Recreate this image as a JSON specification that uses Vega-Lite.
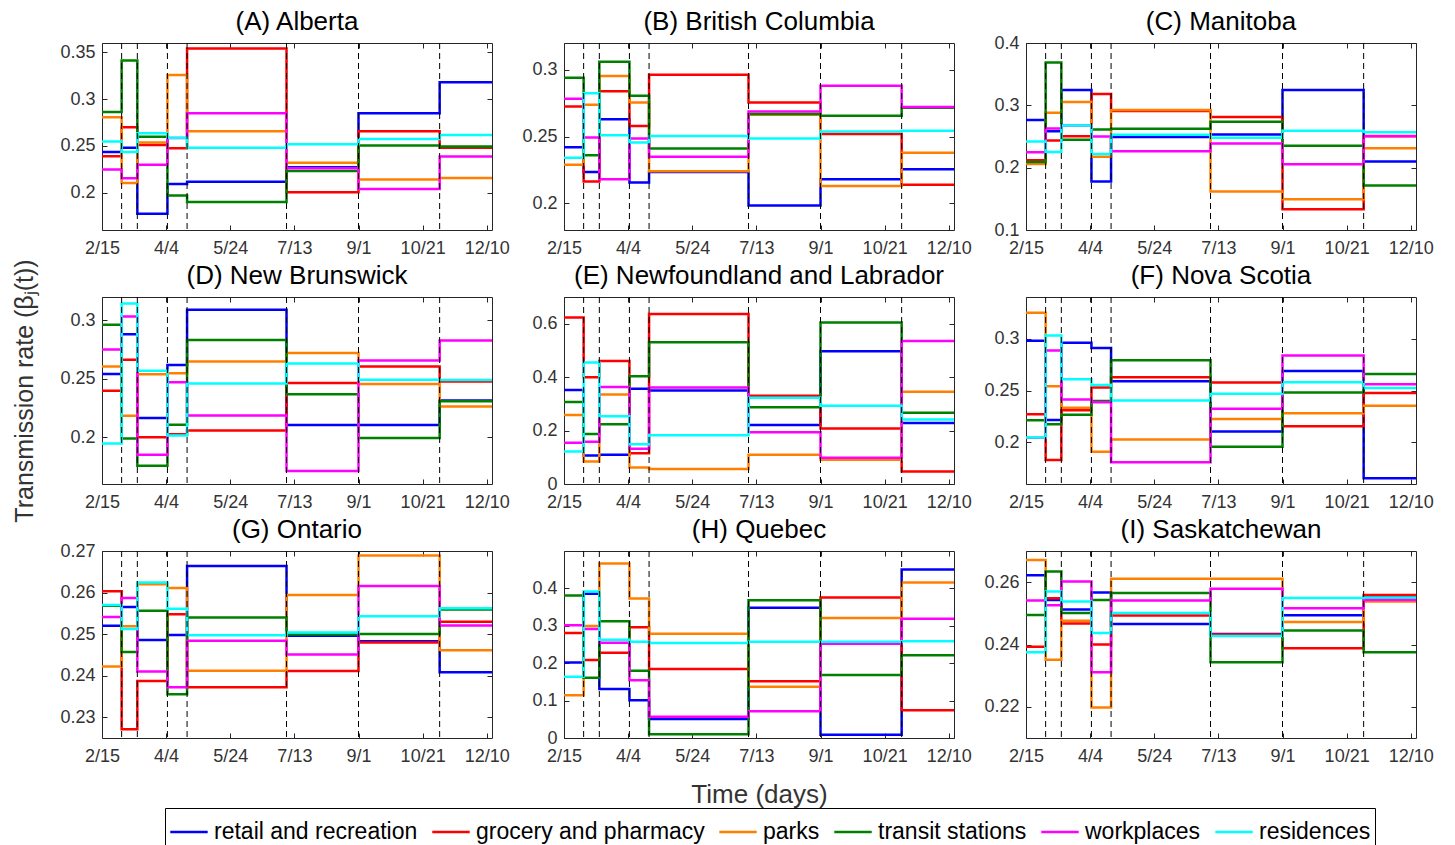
{
"$schema": "https://vega.github.io/schema/vega-lite/v6.json",
"padding": {"top": 8, "left": 12, "right": 5, "bottom": 0},
"config": {
  "font": "Liberation Sans",
  "view": {"stroke": "#262626", "strokeWidth": 1},
  "axis": {"labelFontSize": 18, "labelColor": "#333333", "tickColor": "#262626", "tickSize": -5, "domain": false, "grid": false, "titleFontWeight": "normal", "titleColor": "#333333", "labelFlush": false, "labelOverlap": false},
  "axisX": {"labelPadding": 14},
  "axisY": {"labelPadding": 12},
  "title": {"fontSize": 26, "fontWeight": "normal", "color": "black", "offset": 8, "anchor": "middle"},
  "legend": {"symbolType": "stroke", "symbolStrokeWidth": 2.5, "symbolSize": 1400, "labelFontSize": 23, "labelColor": "black", "strokeColor": "black", "padding": 4, "columnPadding": 9, "labelOffset": 5, "labelLimit": 400}
},
"datasets": {
  "rates": [
    {"p":"A","d":0,"retail and recreation":0.2435,"grocery and pharmacy":0.2388,"parks":0.2807,"transit stations":0.2861,"workplaces":0.2247,"residences":0.2547},
    {"p":"A","d":15,"retail and recreation":0.248,"grocery and pharmacy":0.2699,"parks":0.2103,"transit stations":0.3413,"workplaces":0.2153,"residences":0.2435},
    {"p":"A","d":27,"retail and recreation":0.1774,"grocery and pharmacy":0.251,"parks":0.2536,"transit stations":0.2597,"workplaces":0.2298,"residences":0.2634},
    {"p":"A","d":50,"retail and recreation":0.2092,"grocery and pharmacy":0.2475,"parks":0.3258,"transit stations":0.197,"workplaces":0.2585,"residences":0.2587},
    {"p":"A","d":65,"retail and recreation":0.2117,"grocery and pharmacy":0.354,"parks":0.2655,"transit stations":0.19,"workplaces":0.285,"residences":0.248},
    {"p":"A","d":141,"retail and recreation":0.227,"grocery and pharmacy":0.2005,"parks":0.232,"transit stations":0.223,"workplaces":0.226,"residences":0.2518},
    {"p":"A","d":196,"retail and recreation":0.285,"grocery and pharmacy":0.2655,"parks":0.214,"transit stations":0.2504,"workplaces":0.2038,"residences":0.2572},
    {"p":"A","d":258,"retail and recreation":0.318,"grocery and pharmacy":0.248,"parks":0.2157,"transit stations":0.2493,"workplaces":0.2385,"residences":0.2616},
    {"p":"A","d":298,"retail and recreation":0.318,"grocery and pharmacy":0.248,"parks":0.2157,"transit stations":0.2493,"workplaces":0.2385,"residences":0.2616},

    {"p":"B","d":0,"retail and recreation":0.242,"grocery and pharmacy":0.2725,"parks":0.2288,"transit stations":0.294,"workplaces":0.2783,"residences":0.234},
    {"p":"B","d":15,"retail and recreation":0.2235,"grocery and pharmacy":0.2163,"parks":0.2738,"transit stations":0.236,"workplaces":0.2493,"residences":0.2823},
    {"p":"B","d":27,"retail and recreation":0.263,"grocery and pharmacy":0.2838,"parks":0.2953,"transit stations":0.306,"workplaces":0.218,"residences":0.251},
    {"p":"B","d":50,"retail and recreation":0.2155,"grocery and pharmacy":0.2578,"parks":0.2755,"transit stations":0.2805,"workplaces":0.2485,"residences":0.2455},
    {"p":"B","d":65,"retail and recreation":0.2235,"grocery and pharmacy":0.2963,"parks":0.224,"transit stations":0.241,"workplaces":0.2348,"residences":0.2503},
    {"p":"B","d":141,"retail and recreation":0.1983,"grocery and pharmacy":0.2755,"parks":0.2662,"transit stations":0.2668,"workplaces":0.2688,"residences":0.2485},
    {"p":"B","d":196,"retail and recreation":0.218,"grocery and pharmacy":0.2518,"parks":0.213,"transit stations":0.2655,"workplaces":0.288,"residences":0.2538},
    {"p":"B","d":258,"retail and recreation":0.2255,"grocery and pharmacy":0.2138,"parks":0.2378,"transit stations":0.2715,"workplaces":0.272,"residences":0.2543},
    {"p":"B","d":298,"retail and recreation":0.2255,"grocery and pharmacy":0.2138,"parks":0.2378,"transit stations":0.2715,"workplaces":0.272,"residences":0.2543},

    {"p":"C","d":0,"retail and recreation":0.2764,"grocery and pharmacy":0.2118,"parks":0.2059,"transit stations":0.2092,"workplaces":0.2247,"residences":0.2419},
    {"p":"C","d":15,"retail and recreation":0.2586,"grocery and pharmacy":0.2436,"parks":0.2882,"transit stations":0.3688,"workplaces":0.2629,"residences":0.2253},
    {"p":"C","d":27,"retail and recreation":0.3247,"grocery and pharmacy":0.2505,"parks":0.3054,"transit stations":0.2446,"workplaces":0.2675,"residences":0.2678},
    {"p":"C","d":50,"retail and recreation":0.178,"grocery and pharmacy":0.3183,"parks":0.2177,"transit stations":0.2613,"workplaces":0.25,"residences":0.222},
    {"p":"C","d":65,"retail and recreation":0.249,"grocery and pharmacy":0.2909,"parks":0.2925,"transit stations":0.2624,"workplaces":0.2264,"residences":0.2527},
    {"p":"C","d":141,"retail and recreation":0.2532,"grocery and pharmacy":0.2812,"parks":0.1618,"transit stations":0.2737,"workplaces":0.2387,"residences":0.2479},
    {"p":"C","d":196,"retail and recreation":0.3247,"grocery and pharmacy":0.1333,"parks":0.1495,"transit stations":0.235,"workplaces":0.2054,"residences":0.2591},
    {"p":"C","d":258,"retail and recreation":0.2097,"grocery and pharmacy":0.2505,"parks":0.2312,"transit stations":0.1715,"workplaces":0.251,"residences":0.257},
    {"p":"C","d":298,"retail and recreation":0.2097,"grocery and pharmacy":0.2505,"parks":0.2312,"transit stations":0.1715,"workplaces":0.251,"residences":0.257},

    {"p":"D","d":0,"retail and recreation":0.2541,"grocery and pharmacy":0.2397,"parks":0.2606,"transit stations":0.2963,"workplaces":0.2751,"residences":0.1946},
    {"p":"D","d":15,"retail and recreation":0.2881,"grocery and pharmacy":0.2663,"parks":0.2184,"transit stations":0.1989,"workplaces":0.3034,"residences":0.3144},
    {"p":"D","d":27,"retail and recreation":0.2164,"grocery and pharmacy":0.2,"parks":0.2538,"transit stations":0.1756,"workplaces":0.185,"residences":0.2569},
    {"p":"D","d":50,"retail and recreation":0.2618,"grocery and pharmacy":0.2025,"parks":0.2547,"transit stations":0.2108,"workplaces":0.247,"residences":0.2014},
    {"p":"D","d":65,"retail and recreation":0.3091,"grocery and pharmacy":0.2057,"parks":0.2649,"transit stations":0.2833,"workplaces":0.2187,"residences":0.2459},
    {"p":"D","d":141,"retail and recreation":0.2105,"grocery and pharmacy":0.2465,"parks":0.272,"transit stations":0.2368,"workplaces":0.1711,"residences":0.2632},
    {"p":"D","d":196,"retail and recreation":0.2105,"grocery and pharmacy":0.2606,"parks":0.2456,"transit stations":0.1994,"workplaces":0.2657,"residences":0.2493},
    {"p":"D","d":258,"retail and recreation":0.2314,"grocery and pharmacy":0.2476,"parks":0.2263,"transit stations":0.2309,"workplaces":0.2827,"residences":0.249},
    {"p":"D","d":298,"retail and recreation":0.2314,"grocery and pharmacy":0.2476,"parks":0.2263,"transit stations":0.2309,"workplaces":0.2827,"residences":0.249},

    {"p":"E","d":0,"retail and recreation":0.3515,"grocery and pharmacy":0.6235,"parks":0.2583,"transit stations":0.3068,"workplaces":0.154,"residences":0.1217},
    {"p":"E","d":15,"retail and recreation":0.1068,"grocery and pharmacy":0.4,"parks":0.0845,"transit stations":0.1875,"workplaces":0.1577,"residences":0.4546},
    {"p":"E","d":27,"retail and recreation":0.1093,"grocery and pharmacy":0.4608,"parks":0.3353,"transit stations":0.2236,"workplaces":0.3627,"residences":0.2534},
    {"p":"E","d":50,"retail and recreation":0.3565,"grocery and pharmacy":0.1155,"parks":0.0621,"transit stations":0.4037,"workplaces":0.1317,"residences":0.149},
    {"p":"E","d":65,"retail and recreation":0.3502,"grocery and pharmacy":0.636,"parks":0.0559,"transit stations":0.5303,"workplaces":0.3614,"residences":0.1826},
    {"p":"E","d":141,"retail and recreation":0.2211,"grocery and pharmacy":0.3304,"parks":0.1093,"transit stations":0.2869,"workplaces":0.1937,"residences":0.3229},
    {"p":"E","d":196,"retail and recreation":0.4968,"grocery and pharmacy":0.2074,"parks":0.0907,"transit stations":0.6048,"workplaces":0.0981,"residences":0.2931},
    {"p":"E","d":258,"retail and recreation":0.2285,"grocery and pharmacy":0.0472,"parks":0.3453,"transit stations":0.267,"workplaces":0.5353,"residences":0.241},
    {"p":"E","d":298,"retail and recreation":0.2285,"grocery and pharmacy":0.0472,"parks":0.3453,"transit stations":0.267,"workplaces":0.5353,"residences":0.241},

    {"p":"F","d":0,"retail and recreation":0.2978,"grocery and pharmacy":0.2271,"parks":0.3248,"transit stations":0.2213,"workplaces":0.2046,"residences":0.2048},
    {"p":"F","d":15,"retail and recreation":0.2216,"grocery and pharmacy":0.1831,"parks":0.2541,"transit stations":0.2175,"workplaces":0.2885,"residences":0.3029},
    {"p":"F","d":27,"retail and recreation":0.2959,"grocery and pharmacy":0.2309,"parks":0.2334,"transit stations":0.2267,"workplaces":0.2414,"residences":0.2608},
    {"p":"F","d":50,"retail and recreation":0.2908,"grocery and pharmacy":0.253,"parks":0.1911,"transit stations":0.2398,"workplaces":0.2388,"residences":0.2554},
    {"p":"F","d":65,"retail and recreation":0.2589,"grocery and pharmacy":0.2627,"parks":0.2029,"transit stations":0.279,"workplaces":0.1809,"residences":0.2404},
    {"p":"F","d":141,"retail and recreation":0.2105,"grocery and pharmacy":0.2576,"parks":0.2226,"transit stations":0.1959,"workplaces":0.2325,"residences":0.2468},
    {"p":"F","d":196,"retail and recreation":0.2688,"grocery and pharmacy":0.2156,"parks":0.228,"transit stations":0.2481,"workplaces":0.2838,"residences":0.258},
    {"p":"F","d":258,"retail and recreation":0.1656,"grocery and pharmacy":0.2475,"parks":0.2353,"transit stations":0.2659,"workplaces":0.256,"residences":0.2525},
    {"p":"F","d":298,"retail and recreation":0.1656,"grocery and pharmacy":0.2475,"parks":0.2353,"transit stations":0.2659,"workplaces":0.256,"residences":0.2525},

    {"p":"G","d":0,"retail and recreation":0.252,"grocery and pharmacy":0.2603,"parks":0.2422,"transit stations":0.2568,"workplaces":0.2541,"residences":0.257},
    {"p":"G","d":15,"retail and recreation":0.2565,"grocery and pharmacy":0.2271,"parks":0.2519,"transit stations":0.2457,"workplaces":0.2587,"residences":0.2512},
    {"p":"G","d":27,"retail and recreation":0.2486,"grocery and pharmacy":0.2387,"parks":0.262,"transit stations":0.2556,"workplaces":0.241,"residences":0.2624},
    {"p":"G","d":50,"retail and recreation":0.2498,"grocery and pharmacy":0.2548,"parks":0.2611,"transit stations":0.2355,"workplaces":0.2372,"residences":0.2561},
    {"p":"G","d":65,"retail and recreation":0.2664,"grocery and pharmacy":0.2372,"parks":0.2412,"transit stations":0.254,"workplaces":0.2484,"residences":0.2497},
    {"p":"G","d":141,"retail and recreation":0.2496,"grocery and pharmacy":0.2411,"parks":0.2594,"transit stations":0.2499,"workplaces":0.2451,"residences":0.2504},
    {"p":"G","d":196,"retail and recreation":0.2483,"grocery and pharmacy":0.248,"parks":0.2689,"transit stations":0.25,"workplaces":0.2616,"residences":0.2543},
    {"p":"G","d":258,"retail and recreation":0.2408,"grocery and pharmacy":0.253,"parks":0.2461,"transit stations":0.2559,"workplaces":0.2521,"residences":0.2562},
    {"p":"G","d":298,"retail and recreation":0.2408,"grocery and pharmacy":0.253,"parks":0.2461,"transit stations":0.2559,"workplaces":0.2521,"residences":0.2562},

    {"p":"H","d":0,"retail and recreation":0.2022,"grocery and pharmacy":0.2807,"parks":0.114,"transit stations":0.3813,"workplaces":0.3012,"residences":0.1639},
    {"p":"H","d":15,"retail and recreation":0.3858,"grocery and pharmacy":0.2085,"parks":0.2994,"transit stations":0.1613,"workplaces":0.2914,"residences":0.392},
    {"p":"H","d":27,"retail and recreation":0.131,"grocery and pharmacy":0.2281,"parks":0.4669,"transit stations":0.3119,"workplaces":0.2548,"residences":0.2628},
    {"p":"H","d":50,"retail and recreation":0.1007,"grocery and pharmacy":0.2958,"parks":0.3733,"transit stations":0.18,"workplaces":0.1541,"residences":0.2575},
    {"p":"H","d":65,"retail and recreation":0.0508,"grocery and pharmacy":0.1844,"parks":0.2789,"transit stations":0.0098,"workplaces":0.057,"residences":0.2539},
    {"p":"H","d":141,"retail and recreation":0.3484,"grocery and pharmacy":0.1515,"parks":0.1372,"transit stations":0.368,"workplaces":0.0713,"residences":0.2575},
    {"p":"H","d":196,"retail and recreation":0.0089,"grocery and pharmacy":0.376,"parks":0.3208,"transit stations":0.1684,"workplaces":0.2522,"residences":0.2575},
    {"p":"H","d":258,"retail and recreation":0.4508,"grocery and pharmacy":0.074,"parks":0.4161,"transit stations":0.221,"workplaces":0.319,"residences":0.2584},
    {"p":"H","d":298,"retail and recreation":0.4508,"grocery and pharmacy":0.074,"parks":0.4161,"transit stations":0.221,"workplaces":0.319,"residences":0.2584},

    {"p":"I","d":0,"retail and recreation":0.2622,"grocery and pharmacy":0.2393,"parks":0.2671,"transit stations":0.2495,"workplaces":0.2541,"residences":0.2375},
    {"p":"I","d":15,"retail and recreation":0.2543,"grocery and pharmacy":0.2548,"parks":0.2351,"transit stations":0.2634,"workplaces":0.2526,"residences":0.257},
    {"p":"I","d":27,"retail and recreation":0.2512,"grocery and pharmacy":0.2467,"parks":0.2476,"transit stations":0.2501,"workplaces":0.2602,"residences":0.2538},
    {"p":"I","d":50,"retail and recreation":0.2567,"grocery and pharmacy":0.24,"parks":0.2198,"transit stations":0.2543,"workplaces":0.2311,"residences":0.2437},
    {"p":"I","d":65,"retail and recreation":0.2466,"grocery and pharmacy":0.2493,"parks":0.2611,"transit stations":0.2565,"workplaces":0.2541,"residences":0.2501},
    {"p":"I","d":141,"retail and recreation":0.2434,"grocery and pharmacy":0.2432,"parks":0.2611,"transit stations":0.2343,"workplaces":0.2579,"residences":0.2427},
    {"p":"I","d":196,"retail and recreation":0.2494,"grocery and pharmacy":0.2388,"parks":0.2472,"transit stations":0.2445,"workplaces":0.2516,"residences":0.2549},
    {"p":"I","d":258,"retail and recreation":0.2552,"grocery and pharmacy":0.2559,"parks":0.2538,"transit stations":0.2375,"workplaces":0.2543,"residences":0.2551},
    {"p":"I","d":298,"retail and recreation":0.2552,"grocery and pharmacy":0.2559,"parks":0.2538,"transit stations":0.2375,"workplaces":0.2543,"residences":0.2551}
  ],
  "changes": [{"d":15},{"d":27},{"d":50},{"d":65},{"d":141},{"d":196},{"d":258}],
  "ytitle": [{"v": 0}]
},
"spacing": 64,
"bounds": "flush",
"hconcat": [
  {"width": 1, "height": 695, "view": {"stroke": null}, "data": {"name": "ytitle"},
   "mark": {"type": "point", "opacity": 0},
   "encoding": {"y": {"field": "v", "type": "quantitative", "axis": {"title": "Transmission rate (βⱼ(t))", "titleFontSize": 25, "titlePadding": 0, "labels": false, "ticks": false, "domain": false, "grid": false}}}},
  {"columns": 3, "spacing": {"row": 67, "column": 72}, "bounds": "flush",
   "concat": [
  {"title": "(A) Alberta", "width": 390, "height": 187, "resolve": {"axis": {"x": "independent", "y": "independent"}}, "layer": [
    {"data": {"name": "rates"}, "transform": [{"filter": "datum.p === 'A'"}, {"fold": ["retail and recreation","grocery and pharmacy","parks","transit stations","workplaces","residences"], "as": ["s","v"]}],
     "mark": {"type": "line", "interpolate": "step-after", "strokeWidth": 2.5, "clip": true},
     "encoding": {
       "x": {"field": "d", "type": "quantitative", "scale": {"domain": [0, 298], "nice": false, "zero": false}, "axis": {"title": null, "values": [0,49,98,147,196,245,294], "labelExpr": "['2/15','4/4','5/24','7/13','9/1','10/21','12/10'][round(datum.value/49)]"}},
       "y": {"field": "v", "type": "quantitative", "scale": {"domain": [0.16, 0.36], "nice": false, "zero": false}, "axis": {"title": null, "values": [0.2,0.25,0.3,0.35], "format": "~g"}},
       "color": {"field": "s", "type": "nominal", "scale": {"domain": ["retail and recreation","grocery and pharmacy","parks","transit stations","workplaces","residences"], "range": ["#0000ff","#ff0000","#ff8000","#008000","#ff00ff","#00ffff"]}, "legend": {"title": null, "orient": "none", "legendX": 128, "legendY": 765, "direction": "horizontal", "columns": 6}}
     }},
    {"data": {"name": "changes"}, "mark": {"type": "rule", "strokeDash": [6,4], "color": "black", "strokeWidth": 1}, "encoding": {"x": {"field": "d", "type": "quantitative", "axis": null}}},
    {"data": {"name": "rates"}, "transform": [{"filter": "datum.p === 'A'"}, {"fold": ["retail and recreation"], "as": ["s","v"]}],
     "mark": {"type": "point", "opacity": 0},
     "encoding": {
       "x": {"field": "d", "type": "quantitative", "scale": {"domain": [0, 298], "nice": false, "zero": false}, "axis": {"orient": "top", "title": null, "labels": false, "values": [0,49,98,147,196,245,294]}},
       "y": {"field": "v", "type": "quantitative", "scale": {"domain": [0.16, 0.36], "nice": false, "zero": false}, "axis": {"orient": "right", "title": null, "labels": false, "values": [0.2,0.25,0.3,0.35]}}
     }}
  ]},
  {"title": "(B) British Columbia", "width": 390, "height": 187, "resolve": {"axis": {"x": "independent", "y": "independent"}}, "layer": [
    {"data": {"name": "rates"}, "transform": [{"filter": "datum.p === 'B'"}, {"fold": ["retail and recreation","grocery and pharmacy","parks","transit stations","workplaces","residences"], "as": ["s","v"]}],
     "mark": {"type": "line", "interpolate": "step-after", "strokeWidth": 2.5, "clip": true},
     "encoding": {
       "x": {"field": "d", "type": "quantitative", "scale": {"domain": [0, 298], "nice": false, "zero": false}, "axis": {"title": null, "values": [0,49,98,147,196,245,294], "labelExpr": "['2/15','4/4','5/24','7/13','9/1','10/21','12/10'][round(datum.value/49)]"}},
       "y": {"field": "v", "type": "quantitative", "scale": {"domain": [0.18, 0.32], "nice": false, "zero": false}, "axis": {"title": null, "values": [0.2,0.25,0.3], "format": "~g"}},
       "color": {"field": "s", "type": "nominal", "scale": {"domain": ["retail and recreation","grocery and pharmacy","parks","transit stations","workplaces","residences"], "range": ["#0000ff","#ff0000","#ff8000","#008000","#ff00ff","#00ffff"]}, "legend": {"title": null, "orient": "none", "legendX": 128, "legendY": 765, "direction": "horizontal", "columns": 6}}
     }},
    {"data": {"name": "changes"}, "mark": {"type": "rule", "strokeDash": [6,4], "color": "black", "strokeWidth": 1}, "encoding": {"x": {"field": "d", "type": "quantitative", "axis": null}}},
    {"data": {"name": "rates"}, "transform": [{"filter": "datum.p === 'B'"}, {"fold": ["retail and recreation"], "as": ["s","v"]}],
     "mark": {"type": "point", "opacity": 0},
     "encoding": {
       "x": {"field": "d", "type": "quantitative", "scale": {"domain": [0, 298], "nice": false, "zero": false}, "axis": {"orient": "top", "title": null, "labels": false, "values": [0,49,98,147,196,245,294]}},
       "y": {"field": "v", "type": "quantitative", "scale": {"domain": [0.18, 0.32], "nice": false, "zero": false}, "axis": {"orient": "right", "title": null, "labels": false, "values": [0.2,0.25,0.3]}}
     }}
  ]},
  {"title": {"text": "(C) Manitoba", "offset": -1}, "width": 390, "height": 187, "resolve": {"axis": {"x": "independent", "y": "independent"}}, "layer": [
    {"data": {"name": "rates"}, "transform": [{"filter": "datum.p === 'C'"}, {"fold": ["retail and recreation","grocery and pharmacy","parks","transit stations","workplaces","residences"], "as": ["s","v"]}],
     "mark": {"type": "line", "interpolate": "step-after", "strokeWidth": 2.5, "clip": true},
     "encoding": {
       "x": {"field": "d", "type": "quantitative", "scale": {"domain": [0, 298], "nice": false, "zero": false}, "axis": {"title": null, "values": [0,49,98,147,196,245,294], "labelExpr": "['2/15','4/4','5/24','7/13','9/1','10/21','12/10'][round(datum.value/49)]"}},
       "y": {"field": "v", "type": "quantitative", "scale": {"domain": [0.1, 0.4], "nice": false, "zero": false}, "axis": {"title": null, "values": [0.1,0.2,0.3,0.4], "format": "~g"}},
       "color": {"field": "s", "type": "nominal", "scale": {"domain": ["retail and recreation","grocery and pharmacy","parks","transit stations","workplaces","residences"], "range": ["#0000ff","#ff0000","#ff8000","#008000","#ff00ff","#00ffff"]}, "legend": {"title": null, "orient": "none", "legendX": 128, "legendY": 765, "direction": "horizontal", "columns": 6}}
     }},
    {"data": {"name": "changes"}, "mark": {"type": "rule", "strokeDash": [6,4], "color": "black", "strokeWidth": 1}, "encoding": {"x": {"field": "d", "type": "quantitative", "axis": null}}},
    {"data": {"name": "rates"}, "transform": [{"filter": "datum.p === 'C'"}, {"fold": ["retail and recreation"], "as": ["s","v"]}],
     "mark": {"type": "point", "opacity": 0},
     "encoding": {
       "x": {"field": "d", "type": "quantitative", "scale": {"domain": [0, 298], "nice": false, "zero": false}, "axis": {"orient": "top", "title": null, "labels": false, "values": [0,49,98,147,196,245,294]}},
       "y": {"field": "v", "type": "quantitative", "scale": {"domain": [0.1, 0.4], "nice": false, "zero": false}, "axis": {"orient": "right", "title": null, "labels": false, "values": [0.1,0.2,0.3,0.4]}}
     }}
  ]},
  {"title": "(D) New Brunswick", "width": 390, "height": 187, "resolve": {"axis": {"x": "independent", "y": "independent"}}, "layer": [
    {"data": {"name": "rates"}, "transform": [{"filter": "datum.p === 'D'"}, {"fold": ["retail and recreation","grocery and pharmacy","parks","transit stations","workplaces","residences"], "as": ["s","v"]}],
     "mark": {"type": "line", "interpolate": "step-after", "strokeWidth": 2.5, "clip": true},
     "encoding": {
       "x": {"field": "d", "type": "quantitative", "scale": {"domain": [0, 298], "nice": false, "zero": false}, "axis": {"title": null, "values": [0,49,98,147,196,245,294], "labelExpr": "['2/15','4/4','5/24','7/13','9/1','10/21','12/10'][round(datum.value/49)]"}},
       "y": {"field": "v", "type": "quantitative", "scale": {"domain": [0.16, 0.32], "nice": false, "zero": false}, "axis": {"title": null, "values": [0.2,0.25,0.3], "format": "~g"}},
       "color": {"field": "s", "type": "nominal", "scale": {"domain": ["retail and recreation","grocery and pharmacy","parks","transit stations","workplaces","residences"], "range": ["#0000ff","#ff0000","#ff8000","#008000","#ff00ff","#00ffff"]}, "legend": {"title": null, "orient": "none", "legendX": 128, "legendY": 765, "direction": "horizontal", "columns": 6}}
     }},
    {"data": {"name": "changes"}, "mark": {"type": "rule", "strokeDash": [6,4], "color": "black", "strokeWidth": 1}, "encoding": {"x": {"field": "d", "type": "quantitative", "axis": null}}},
    {"data": {"name": "rates"}, "transform": [{"filter": "datum.p === 'D'"}, {"fold": ["retail and recreation"], "as": ["s","v"]}],
     "mark": {"type": "point", "opacity": 0},
     "encoding": {
       "x": {"field": "d", "type": "quantitative", "scale": {"domain": [0, 298], "nice": false, "zero": false}, "axis": {"orient": "top", "title": null, "labels": false, "values": [0,49,98,147,196,245,294]}},
       "y": {"field": "v", "type": "quantitative", "scale": {"domain": [0.16, 0.32], "nice": false, "zero": false}, "axis": {"orient": "right", "title": null, "labels": false, "values": [0.2,0.25,0.3]}}
     }}
  ]},
  {"title": "(E) Newfoundland and Labrador", "width": 390, "height": 187, "resolve": {"axis": {"x": "independent", "y": "independent"}}, "layer": [
    {"data": {"name": "rates"}, "transform": [{"filter": "datum.p === 'E'"}, {"fold": ["retail and recreation","grocery and pharmacy","parks","transit stations","workplaces","residences"], "as": ["s","v"]}],
     "mark": {"type": "line", "interpolate": "step-after", "strokeWidth": 2.5, "clip": true},
     "encoding": {
       "x": {"field": "d", "type": "quantitative", "scale": {"domain": [0, 298], "nice": false, "zero": false}, "axis": {"title": null, "values": [0,49,98,147,196,245,294], "labelExpr": "['2/15','4/4','5/24','7/13','9/1','10/21','12/10'][round(datum.value/49)]"}},
       "y": {"field": "v", "type": "quantitative", "scale": {"domain": [0, 0.7], "nice": false, "zero": false}, "axis": {"title": null, "values": [0,0.2,0.4,0.6], "format": "~g"}},
       "color": {"field": "s", "type": "nominal", "scale": {"domain": ["retail and recreation","grocery and pharmacy","parks","transit stations","workplaces","residences"], "range": ["#0000ff","#ff0000","#ff8000","#008000","#ff00ff","#00ffff"]}, "legend": {"title": null, "orient": "none", "legendX": 128, "legendY": 765, "direction": "horizontal", "columns": 6}}
     }},
    {"data": {"name": "changes"}, "mark": {"type": "rule", "strokeDash": [6,4], "color": "black", "strokeWidth": 1}, "encoding": {"x": {"field": "d", "type": "quantitative", "axis": null}}},
    {"data": {"name": "rates"}, "transform": [{"filter": "datum.p === 'E'"}, {"fold": ["retail and recreation"], "as": ["s","v"]}],
     "mark": {"type": "point", "opacity": 0},
     "encoding": {
       "x": {"field": "d", "type": "quantitative", "scale": {"domain": [0, 298], "nice": false, "zero": false}, "axis": {"orient": "top", "title": null, "labels": false, "values": [0,49,98,147,196,245,294]}},
       "y": {"field": "v", "type": "quantitative", "scale": {"domain": [0, 0.7], "nice": false, "zero": false}, "axis": {"orient": "right", "title": null, "labels": false, "values": [0,0.2,0.4,0.6]}}
     }}
  ]},
  {"title": "(F) Nova Scotia", "width": 390, "height": 187, "resolve": {"axis": {"x": "independent", "y": "independent"}}, "layer": [
    {"data": {"name": "rates"}, "transform": [{"filter": "datum.p === 'F'"}, {"fold": ["retail and recreation","grocery and pharmacy","parks","transit stations","workplaces","residences"], "as": ["s","v"]}],
     "mark": {"type": "line", "interpolate": "step-after", "strokeWidth": 2.5, "clip": true},
     "encoding": {
       "x": {"field": "d", "type": "quantitative", "scale": {"domain": [0, 298], "nice": false, "zero": false}, "axis": {"title": null, "values": [0,49,98,147,196,245,294], "labelExpr": "['2/15','4/4','5/24','7/13','9/1','10/21','12/10'][round(datum.value/49)]"}},
       "y": {"field": "v", "type": "quantitative", "scale": {"domain": [0.16, 0.34], "nice": false, "zero": false}, "axis": {"title": null, "values": [0.2,0.25,0.3], "format": "~g"}},
       "color": {"field": "s", "type": "nominal", "scale": {"domain": ["retail and recreation","grocery and pharmacy","parks","transit stations","workplaces","residences"], "range": ["#0000ff","#ff0000","#ff8000","#008000","#ff00ff","#00ffff"]}, "legend": {"title": null, "orient": "none", "legendX": 128, "legendY": 765, "direction": "horizontal", "columns": 6}}
     }},
    {"data": {"name": "changes"}, "mark": {"type": "rule", "strokeDash": [6,4], "color": "black", "strokeWidth": 1}, "encoding": {"x": {"field": "d", "type": "quantitative", "axis": null}}},
    {"data": {"name": "rates"}, "transform": [{"filter": "datum.p === 'F'"}, {"fold": ["retail and recreation"], "as": ["s","v"]}],
     "mark": {"type": "point", "opacity": 0},
     "encoding": {
       "x": {"field": "d", "type": "quantitative", "scale": {"domain": [0, 298], "nice": false, "zero": false}, "axis": {"orient": "top", "title": null, "labels": false, "values": [0,49,98,147,196,245,294]}},
       "y": {"field": "v", "type": "quantitative", "scale": {"domain": [0.16, 0.34], "nice": false, "zero": false}, "axis": {"orient": "right", "title": null, "labels": false, "values": [0.2,0.25,0.3]}}
     }}
  ]},
  {"title": {"text": "(G) Ontario", "offset": -1}, "width": 390, "height": 187, "resolve": {"axis": {"x": "independent", "y": "independent"}}, "layer": [
    {"data": {"name": "rates"}, "transform": [{"filter": "datum.p === 'G'"}, {"fold": ["retail and recreation","grocery and pharmacy","parks","transit stations","workplaces","residences"], "as": ["s","v"]}],
     "mark": {"type": "line", "interpolate": "step-after", "strokeWidth": 2.5, "clip": true},
     "encoding": {
       "x": {"field": "d", "type": "quantitative", "scale": {"domain": [0, 298], "nice": false, "zero": false}, "axis": {"title": null, "values": [0,49,98,147,196,245,294], "labelExpr": "['2/15','4/4','5/24','7/13','9/1','10/21','12/10'][round(datum.value/49)]"}},
       "y": {"field": "v", "type": "quantitative", "scale": {"domain": [0.225, 0.27], "nice": false, "zero": false}, "axis": {"title": null, "values": [0.23,0.24,0.25,0.26,0.27], "format": "~g"}},
       "color": {"field": "s", "type": "nominal", "scale": {"domain": ["retail and recreation","grocery and pharmacy","parks","transit stations","workplaces","residences"], "range": ["#0000ff","#ff0000","#ff8000","#008000","#ff00ff","#00ffff"]}, "legend": {"title": null, "orient": "none", "legendX": 128, "legendY": 765, "direction": "horizontal", "columns": 6}}
     }},
    {"data": {"name": "changes"}, "mark": {"type": "rule", "strokeDash": [6,4], "color": "black", "strokeWidth": 1}, "encoding": {"x": {"field": "d", "type": "quantitative", "axis": null}}},
    {"data": {"name": "rates"}, "transform": [{"filter": "datum.p === 'G'"}, {"fold": ["retail and recreation"], "as": ["s","v"]}],
     "mark": {"type": "point", "opacity": 0},
     "encoding": {
       "x": {"field": "d", "type": "quantitative", "scale": {"domain": [0, 298], "nice": false, "zero": false}, "axis": {"orient": "top", "title": null, "labels": false, "values": [0,49,98,147,196,245,294]}},
       "y": {"field": "v", "type": "quantitative", "scale": {"domain": [0.225, 0.27], "nice": false, "zero": false}, "axis": {"orient": "right", "title": null, "labels": false, "values": [0.23,0.24,0.25,0.26,0.27]}}
     }}
  ]},
  {"title": "(H) Quebec", "width": 390, "height": 187, "resolve": {"axis": {"x": "independent", "y": "independent"}}, "layer": [
    {"data": {"name": "rates"}, "transform": [{"filter": "datum.p === 'H'"}, {"fold": ["retail and recreation","grocery and pharmacy","parks","transit stations","workplaces","residences"], "as": ["s","v"]}],
     "mark": {"type": "line", "interpolate": "step-after", "strokeWidth": 2.5, "clip": true},
     "encoding": {
       "x": {"field": "d", "type": "quantitative", "scale": {"domain": [0, 298], "nice": false, "zero": false}, "axis": {"title": "Time (days)", "titleFontSize": 26, "titlePadding": 16, "values": [0,49,98,147,196,245,294], "labelExpr": "['2/15','4/4','5/24','7/13','9/1','10/21','12/10'][round(datum.value/49)]"}},
       "y": {"field": "v", "type": "quantitative", "scale": {"domain": [0, 0.5], "nice": false, "zero": false}, "axis": {"title": null, "values": [0,0.1,0.2,0.3,0.4], "format": "~g"}},
       "color": {"field": "s", "type": "nominal", "scale": {"domain": ["retail and recreation","grocery and pharmacy","parks","transit stations","workplaces","residences"], "range": ["#0000ff","#ff0000","#ff8000","#008000","#ff00ff","#00ffff"]}, "legend": {"title": null, "orient": "none", "legendX": 128, "legendY": 765, "direction": "horizontal", "columns": 6}}
     }},
    {"data": {"name": "changes"}, "mark": {"type": "rule", "strokeDash": [6,4], "color": "black", "strokeWidth": 1}, "encoding": {"x": {"field": "d", "type": "quantitative", "axis": null}}},
    {"data": {"name": "rates"}, "transform": [{"filter": "datum.p === 'H'"}, {"fold": ["retail and recreation"], "as": ["s","v"]}],
     "mark": {"type": "point", "opacity": 0},
     "encoding": {
       "x": {"field": "d", "type": "quantitative", "scale": {"domain": [0, 298], "nice": false, "zero": false}, "axis": {"orient": "top", "title": null, "labels": false, "values": [0,49,98,147,196,245,294]}},
       "y": {"field": "v", "type": "quantitative", "scale": {"domain": [0, 0.5], "nice": false, "zero": false}, "axis": {"orient": "right", "title": null, "labels": false, "values": [0,0.1,0.2,0.3,0.4]}}
     }}
  ]},
  {"title": "(I) Saskatchewan", "width": 390, "height": 187, "resolve": {"axis": {"x": "independent", "y": "independent"}}, "layer": [
    {"data": {"name": "rates"}, "transform": [{"filter": "datum.p === 'I'"}, {"fold": ["retail and recreation","grocery and pharmacy","parks","transit stations","workplaces","residences"], "as": ["s","v"]}],
     "mark": {"type": "line", "interpolate": "step-after", "strokeWidth": 2.5, "clip": true},
     "encoding": {
       "x": {"field": "d", "type": "quantitative", "scale": {"domain": [0, 298], "nice": false, "zero": false}, "axis": {"title": null, "values": [0,49,98,147,196,245,294], "labelExpr": "['2/15','4/4','5/24','7/13','9/1','10/21','12/10'][round(datum.value/49)]"}},
       "y": {"field": "v", "type": "quantitative", "scale": {"domain": [0.21, 0.27], "nice": false, "zero": false}, "axis": {"title": null, "values": [0.22,0.24,0.26], "format": "~g"}},
       "color": {"field": "s", "type": "nominal", "scale": {"domain": ["retail and recreation","grocery and pharmacy","parks","transit stations","workplaces","residences"], "range": ["#0000ff","#ff0000","#ff8000","#008000","#ff00ff","#00ffff"]}, "legend": {"title": null, "orient": "none", "legendX": 128, "legendY": 765, "direction": "horizontal", "columns": 6}}
     }},
    {"data": {"name": "changes"}, "mark": {"type": "rule", "strokeDash": [6,4], "color": "black", "strokeWidth": 1}, "encoding": {"x": {"field": "d", "type": "quantitative", "axis": null}}},
    {"data": {"name": "rates"}, "transform": [{"filter": "datum.p === 'I'"}, {"fold": ["retail and recreation"], "as": ["s","v"]}],
     "mark": {"type": "point", "opacity": 0},
     "encoding": {
       "x": {"field": "d", "type": "quantitative", "scale": {"domain": [0, 298], "nice": false, "zero": false}, "axis": {"orient": "top", "title": null, "labels": false, "values": [0,49,98,147,196,245,294]}},
       "y": {"field": "v", "type": "quantitative", "scale": {"domain": [0.21, 0.27], "nice": false, "zero": false}, "axis": {"orient": "right", "title": null, "labels": false, "values": [0.22,0.24,0.26]}}
     }}
  ]}
   ]}
]
}
